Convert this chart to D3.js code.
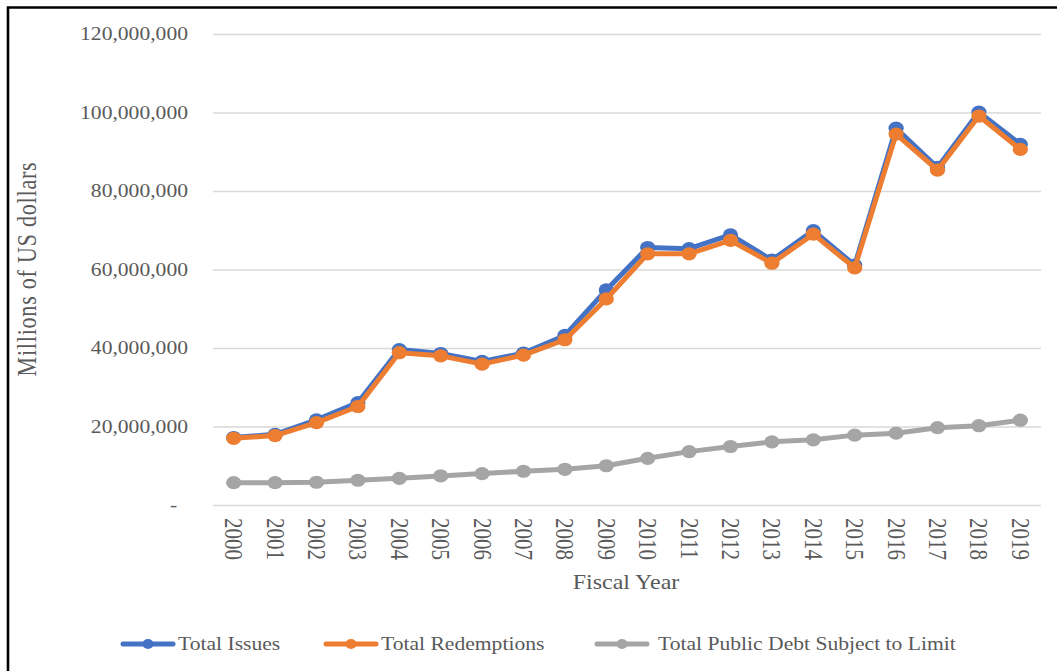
<!DOCTYPE html>
<html lang="en">
<head>
    <meta charset="utf-8">
    <title>Issues, redemptions and debt subject to limit</title>
    <script src="https://cdn.jsdelivr.net/npm/d3@7"></script>
    <style>
        body { margin: 0; background: #fff; }
        text { font-family: "Liberation Serif", "Times New Roman", serif; fill: #595959; }
    </style>
</head>

<body>

<div id="chart"></div>

<script type="text/javascript">
// values in millions of US dollars
var years = ["2000", "2001", "2002", "2003", "2004", "2005", "2006", "2007", "2008", "2009",
             "2010", "2011", "2012", "2013", "2014", "2015", "2016", "2017", "2018", "2019"];

var totalIssues = [17200000, 18000000, 21700000, 26100000, 39600000, 38600000, 36600000, 38700000, 43200000, 54800000,
                   65600000, 65300000, 68800000, 62400000, 69900000, 61100000, 96000000, 86000000, 100100000, 91900000];

var totalRedemptions = [17000000, 17700000, 21000000, 25100000, 38800000, 38000000, 35900000, 38200000, 42100000, 52500000,
                        64000000, 64000000, 67400000, 61600000, 69000000, 60400000, 94500000, 85300000, 99100000, 90600000];

var debtSubjectToLimit = [5700000, 5700000, 5800000, 6300000, 6800000, 7400000, 8000000, 8600000, 9100000, 10000000,
                          11900000, 13600000, 14900000, 16100000, 16600000, 17800000, 18300000, 19700000, 20200000, 21600000];

var yTicks = [0, 20000000, 40000000, 60000000, 80000000, 100000000, 120000000];

var seriesNames = ["Total Issues", "Total Redemptions", "Total Public Debt Subject to Limit"];
var seriesColors = ["#4472C4", "#ED7D31", "#A5A5A5"];
</script>

<script type="text/javascript">
var width = 1057, height = 671;
var margin = {left: 213, right: 16, top: 34, bottom: 166};
var sx = 1.2; // glyphs in the picture are a bit wider than tall

var svg = d3.select("#chart")
            .append("svg")
            .attr("width", width)
            .attr("height", height);

// frame (left + top edges)
svg.append("path")
   .attr("d", "M8," + height + "V7.5H" + width)
   .attr("fill", "none")
   .attr("stroke", "#000")
   .attr("stroke-width", 2.6);

var x = d3.scaleBand()
          .domain(years)
          .range([margin.left, width - margin.right]);

var y = d3.scaleLinear()
          .domain([0, 120000000])
          .range([height - margin.bottom, margin.top]);

var fmt = d3.format(",");

// gridlines + y labels
var yAxis = d3.axisLeft(y)
              .tickValues(yTicks)
              .tickSize(-(width - margin.right - margin.left))
              .tickPadding(25)
              .tickFormat(function(d) { return d === 0 ? "-" : fmt(d); });

var gy = svg.append("g")
            .attr("transform", "translate(" + margin.left + ",0)")
            .call(yAxis);

gy.select(".domain").remove();
gy.selectAll(".tick line")
  .attr("stroke", "#d9d9d9")
  .attr("stroke-width", 1.5);
gy.selectAll(".tick text")
  .attr("font-size", 18)
  .attr("fill", "#595959")
  .attr("transform", function() {
      var tx = +d3.select(this).attr("x");
      return "translate(" + tx + ",0) scale(" + sx + ",1) translate(" + (-tx) + ",0)";
  })
  .attr("dx", function(d) { return d === 0 ? -9 : 0; });

// x labels, rotated to read downward
var xAxis = d3.axisBottom(x).tickSize(0).tickPadding(0);

var gx = svg.append("g")
            .attr("transform", "translate(0," + (height - margin.bottom) + ")")
            .call(xAxis);

gx.select(".domain").remove();
gx.selectAll(".tick text")
  .attr("font-size", 21)
  .attr("fill", "#595959")
  .attr("text-anchor", "start")
  .attr("x", 0)
  .attr("y", 0)
  .attr("dy", "0.34em")
  .attr("transform", "translate(0,13) rotate(90) scale(1," + sx + ")");

// axis titles
svg.append("text")
   .attr("transform", "translate(626,589) scale(" + sx + ",1)")
   .attr("text-anchor", "middle")
   .attr("font-size", 20)
   .text("Fiscal Year");

svg.append("text")
   .attr("transform", "translate(36,269) rotate(-90) scale(1," + sx + ")")
   .attr("text-anchor", "middle")
   .attr("font-size", 22)
   .attr("letter-spacing", 0.8)
   .text("Millions of US dollars");

// series
var series = [totalIssues, totalRedemptions, debtSubjectToLimit];

var line = d3.line()
             .x(function(d, i) { return x(years[i]) + x.bandwidth() / 2; })
             .y(function(d) { return y(d); });

series.forEach(function(values, k) {
    var g = svg.append("g");
    g.append("path")
     .datum(values)
     .attr("fill", "none")
     .attr("stroke", seriesColors[k])
     .attr("stroke-width", 5)
     .attr("stroke-linejoin", "round")
     .attr("d", line);

    g.selectAll("ellipse")
     .data(values)
     .enter().append("ellipse")
     .attr("cx", function(d, i) { return x(years[i]) + x.bandwidth() / 2; })
     .attr("cy", function(d) { return y(d); })
     .attr("rx", 7.6)
     .attr("ry", 6.6)
     .attr("fill", seriesColors[k]);
});

// legend
var legendX = [123, 326, 597];
var legend = svg.append("g");

seriesNames.forEach(function(name, k) {
    var lx = legendX[k], ly = 644;
    legend.append("line")
          .attr("x1", lx).attr("x2", lx + 50)
          .attr("y1", ly).attr("y2", ly)
          .attr("stroke", seriesColors[k])
          .attr("stroke-width", 5)
          .attr("stroke-linecap", "round");
    legend.append("ellipse")
          .attr("cx", lx + 25).attr("cy", ly)
          .attr("rx", 5.5).attr("ry", 5)
          .attr("fill", seriesColors[k]);
    legend.append("text")
          .attr("transform", "translate(" + (lx + (k == 2 ? 61 : 55)) + "," + (ly + 6) + ") scale(" + sx + ",1)")
          .attr("font-size", 18)
          .text(name);
});
</script>

</body>

</html>
